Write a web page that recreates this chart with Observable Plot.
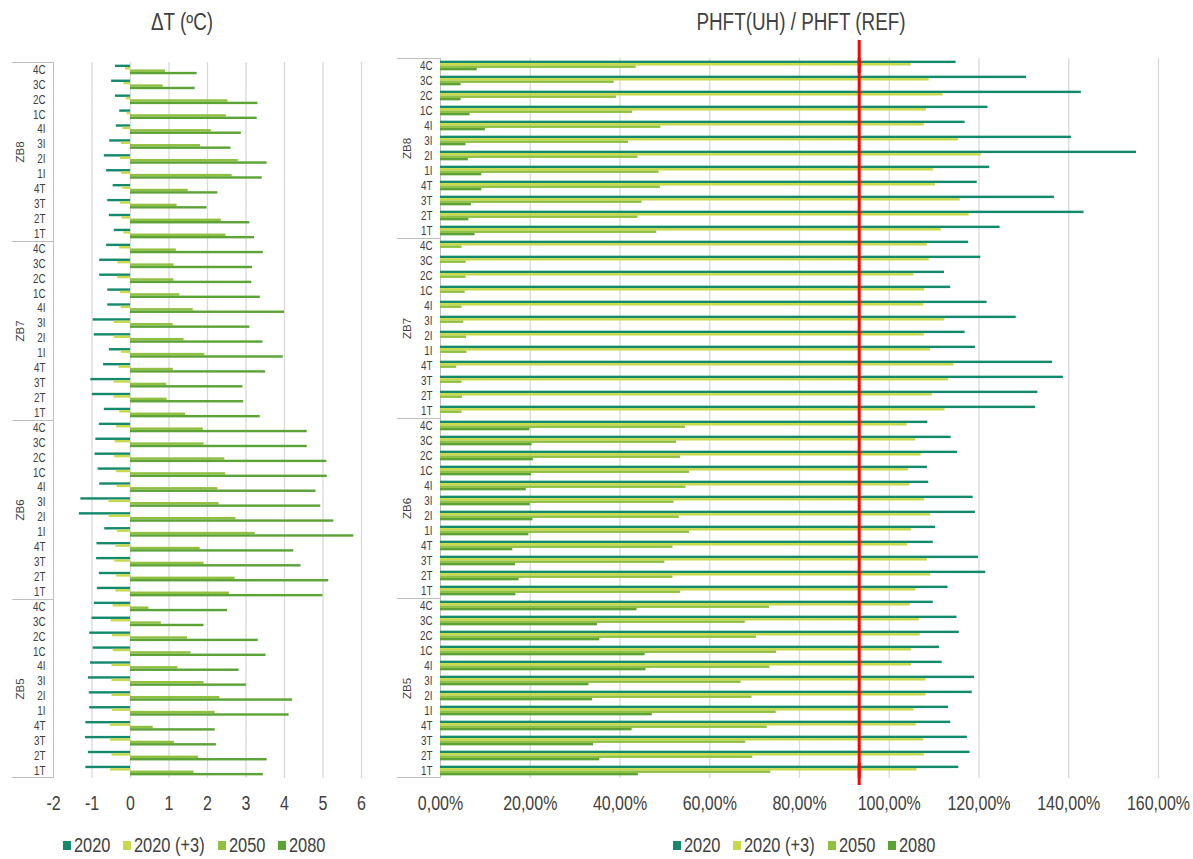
<!DOCTYPE html>
<html>
<head>
<meta charset="utf-8">
<script src="https://cdn.jsdelivr.net/npm/d3@7"></script>
<script src="https://cdn.jsdelivr.net/npm/@observablehq/plot@0.6"></script>
<style>
  html, body { margin: 0; padding: 0; background: #fff; }
  body { width: 1193px; height: 859px; position: relative; overflow: hidden;
         font-family: "Liberation Sans", Arial, sans-serif; color: #404040; }
  #left { position: absolute; left: 0; top: 40px; }
  #right { position: absolute; left: 385px; top: 40px; }
  .title { position: absolute; top: 8px; font-size: 23px; line-height: 28px; white-space: nowrap; transform: translateX(-50%) scaleX(0.82); }
  .legend { position: absolute; top: 833px; display: flex; align-items: center; font-size: 20px; line-height: 24px; }
  .legend .item { display: flex; align-items: center; }
  .legend .sw { width: 8px; height: 9px; margin-right: 3px; }
  .legend .lab { display: inline-block; transform-origin: 0 50%; transform: scaleX(0.82); white-space: nowrap; }
  svg [aria-label^="x-axis"] text { font-size: 19.5px; }
  svg [aria-label^="fy-axis"] text { font-size: 12px; }
</style>
</head>
<body>
<div class="title" style="left:182px">ΔT (ºC)</div>
<div class="title" style="left:801px">PHFT(UH) / PHFT (REF)</div>
<div id="left"></div>
<div id="right"></div>
<div class="legend" id="legL" style="left:63px"></div>
<div class="legend" id="legR" style="left:673px"></div>
<script>
// ---------- data ----------
const zones = ["ZB8", "ZB7", "ZB6", "ZB5"];
const cats = ["4C", "3C", "2C", "1C", "4I", "3I", "2I", "1I", "4T", "3T", "2T", "1T"];
const series = ["2020", "2020 (+3)", "2050", "2080"];
const colors = ["#138a6b", "#c8d94b", "#8fc03f", "#5ba237"];
const dtTicks = [-2, -1, 0, 1, 2, 3, 4, 5, 6];
const phTicks = [0, 0.2, 0.4, 0.6, 0.8, 1.0, 1.2, 1.4, 1.6];
const refLine = [0.933];

// ΔT (ºC), order: ZB8, ZB7, ZB6, ZB5 — each 4C..1T
const dT_2020 = [
  -0.39, -0.49, -0.39, -0.28, -0.37, -0.54, -0.68, -0.62, -0.45, -0.59, -0.55, -0.42,
  -0.62, -0.80, -0.80, -0.59, -0.59, -0.97, -0.94, -0.55, -0.70, -1.03, -0.99, -0.68,
  -0.81, -0.90, -0.92, -0.84, -0.80, -1.29, -1.33, -0.67, -0.87, -0.88, -0.81, -0.86,
  -0.94, -1.00, -1.06, -0.97, -1.04, -1.09, -1.07, -1.06, -1.16, -1.17, -1.09, -1.16];
const dT_2020p3 = [
  -0.13, -0.17, -0.11, -0.09, -0.20, -0.24, -0.26, -0.23, -0.20, -0.26, -0.22, -0.17,
  -0.28, -0.33, -0.33, -0.26, -0.24, -0.42, -0.42, -0.24, -0.30, -0.43, -0.43, -0.28,
  -0.36, -0.40, -0.41, -0.36, -0.35, -0.56, -0.56, -0.34, -0.38, -0.41, -0.36, -0.38,
  -0.45, -0.50, -0.47, -0.45, -0.48, -0.48, -0.48, -0.47, -0.52, -0.52, -0.48, -0.52];
const dT_2050 = [
  0.91, 0.85, 2.53, 2.49, 2.10, 1.82, 2.80, 2.64, 1.50, 1.21, 2.36, 2.48,
  1.19, 1.13, 1.13, 1.28, 1.63, 1.11, 1.39, 1.93, 1.11, 0.94, 0.95, 1.43,
  1.89, 1.91, 2.45, 2.47, 2.27, 2.30, 2.74, 3.24, 1.81, 1.91, 2.72, 2.57,
  0.48, 0.80, 1.48, 1.57, 1.23, 1.91, 2.32, 2.20, 0.59, 1.14, 1.77, 1.65];
const dT_2080 = [
  1.73, 1.68, 3.31, 3.29, 2.88, 2.61, 3.55, 3.42, 2.27, 1.99, 3.10, 3.22,
  3.45, 3.17, 3.15, 3.37, 4.00, 3.10, 3.44, 3.97, 3.51, 2.92, 2.94, 3.37,
  4.59, 4.59, 5.10, 5.11, 4.82, 4.94, 5.28, 5.80, 4.24, 4.43, 5.15, 5.00,
  2.52, 1.91, 3.32, 3.52, 2.82, 3.01, 4.21, 4.12, 2.20, 2.23, 3.55, 3.45];

// PHFT(UH) / PHFT(REF)
const ph_2020 = [
  1.149, 1.306, 1.428, 1.220, 1.169, 1.406, 1.551, 1.224, 1.196, 1.368, 1.434, 1.247,
  1.177, 1.204, 1.123, 1.137, 1.218, 1.283, 1.169, 1.192, 1.364, 1.388, 1.331, 1.326,
  1.086, 1.138, 1.152, 1.085, 1.088, 1.187, 1.192, 1.103, 1.098, 1.199, 1.215, 1.131,
  1.098, 1.151, 1.156, 1.112, 1.118, 1.190, 1.185, 1.132, 1.137, 1.174, 1.180, 1.155];
const ph_2020p3 = [
  1.049, 1.089, 1.120, 1.083, 1.078, 1.154, 1.205, 1.099, 1.103, 1.158, 1.178, 1.116,
  1.085, 1.089, 1.055, 1.079, 1.077, 1.124, 1.078, 1.092, 1.144, 1.132, 1.096, 1.124,
  1.040, 1.059, 1.071, 1.043, 1.046, 1.079, 1.092, 1.050, 1.041, 1.085, 1.092, 1.059,
  1.047, 1.067, 1.069, 1.050, 1.050, 1.082, 1.082, 1.055, 1.060, 1.077, 1.078, 1.062];
const ph_2050 = [
  0.436, 0.387, 0.392, 0.428, 0.491, 0.419, 0.440, 0.487, 0.490, 0.449, 0.440, 0.482,
  0.048, 0.057, 0.057, 0.055, 0.048, 0.052, 0.058, 0.059, 0.036, 0.048, 0.049, 0.048,
  0.546, 0.526, 0.535, 0.555, 0.547, 0.520, 0.532, 0.555, 0.518, 0.500, 0.518, 0.535,
  0.733, 0.679, 0.704, 0.749, 0.734, 0.670, 0.694, 0.748, 0.728, 0.680, 0.696, 0.736];
const ph_2080 = [
  0.082, 0.046, 0.046, 0.066, 0.100, 0.057, 0.062, 0.092, 0.092, 0.069, 0.063, 0.077,
  0, 0, 0, 0, 0, 0, 0, 0, 0, 0, 0, 0,
  0.199, 0.204, 0.207, 0.203, 0.191, 0.200, 0.206, 0.197, 0.161, 0.167, 0.175, 0.168,
  0.438, 0.350, 0.355, 0.456, 0.458, 0.331, 0.339, 0.472, 0.427, 0.341, 0.355, 0.441];

// ---------- derived tables ----------
const keys = zones.flatMap(z => cats.map(c => `${z}|${c}`));
const rows = cols => keys.flatMap((key, i) => series.map((s, j) => ({key, series: s, value: cols[j][i]})));
const dtRows = rows([dT_2020, dT_2020p3, dT_2050, dT_2080]);
const phRows = rows([ph_2020, ph_2020p3, ph_2050, ph_2080]);
const zoneFirst = zones.map(z => ({key: `${z}|${cats[0]}`}));
const zoneMid = zones.map(z => ({key: `${z}|${cats[5]}`, zone: z}));
const firstKey = [{key: keys[0]}];
const lastKey = [{key: keys[keys.length - 1]}];

const FONT = '"Liberation Sans", Arial, sans-serif';
const NARROW = 0.82;
const H = 778, MB = 40;

function panel(o) {
  const step = (H - o.marginTop - MB) / keys.length;
  const x0 = o.domain[0];
  return Plot.plot({
    width: o.width, height: H,
    marginLeft: o.marginLeft, marginRight: o.marginRight, marginTop: o.marginTop, marginBottom: MB,
    style: {fontFamily: FONT, fontSize: "12px", color: "#404040", background: "transparent", overflow: "visible"},
    x: {domain: o.domain, ticks: o.ticks, tickFormat: o.tickFormat, tickSize: 0, tickPadding: 18, label: null},
    y: {domain: series, paddingInner: 0, paddingOuter: 1.1, round: false, axis: null},
    fy: {domain: keys, padding: 0, round: false, axis: "left", tickSize: 0, tickPadding: o.labelPad,
         tickFormat: k => k.split("|")[1], label: null},
    color: {domain: series, range: colors},
    marks: [
      Plot.ruleX(o.ticks.filter(t => t !== x0), {stroke: "#d9d9d9", strokeWidth: 1.3}),
      Plot.ruleX([x0], {stroke: "#bfbfbf"}),
      Plot.barX(o.data, {x1: 0, x2: "value", y: "series", fy: "key", fill: "series"}),
      Plot.rect(zoneFirst, {fy: "key", x1: x0, x2: x0, insetLeft: -o.sep, insetBottom: step - 1, fill: "#bfbfbf"}),
      Plot.rect(lastKey, {fy: "key", x1: x0, x2: x0, insetLeft: -o.sep, insetTop: step - 1, fill: "#bfbfbf"}),
      Plot.text(zoneMid, {fy: "key", x: x0, text: "zone", frameAnchor: "bottom", rotate: -90, dx: o.zoneDx, fontSize: 11.5}),
      ...(o.extra || [])
    ]
  });
}

// emulate a narrow (Arial Narrow-like) face for the axis labels
function condense(svg) {
  svg.querySelectorAll("text").forEach(t => {
    if (!t.closest('[aria-label^="x-axis"], [aria-label^="fy-axis"]')) return;
    if (t.querySelector("tspan")) return;
    const L = t.getComputedTextLength();
    if (L > 0) {
      t.setAttribute("textLength", (L * NARROW).toFixed(2));
      t.setAttribute("lengthAdjust", "spacingAndGlyphs");
    }
  });
}

const left = panel({
  data: dtRows, width: 385, marginLeft: 53, marginRight: 24, marginTop: 22,
  domain: [-2, 6], ticks: dtTicks, tickFormat: d => String(d),
  labelPad: 8, zoneDx: -30, sep: 41
});
document.getElementById("left").appendChild(left);
condense(left);

const right = panel({
  data: phRows, width: 808, marginLeft: 55, marginRight: 35, marginTop: 18,
  domain: [0, 1.6], ticks: phTicks, tickFormat: d => (d * 100).toFixed(2).replace(".", ",") + "%",
  labelPad: 8, zoneDx: -30, sep: 43,
  extra: [
    Plot.ruleX(refLine, {stroke: "#ff0000", strokeWidth: 3}),
    Plot.ruleX(firstKey, {fy: "key", x: refLine[0], stroke: "#ff0000", strokeWidth: 3, insetTop: -18}),
    Plot.ruleX(lastKey, {fy: "key", x: refLine[0], stroke: "#ff0000", strokeWidth: 3, insetBottom: -7})
  ]
});
document.getElementById("right").appendChild(right);
condense(right);

for (const id of ["legL", "legR"]) {
  const leg = document.getElementById(id);
  series.forEach((s, i) => {
    const item = document.createElement("div");
    item.className = "item";
    const sw = document.createElement("div");
    sw.className = "sw";
    sw.style.background = colors[i];
    const t = document.createElement("span");
    t.className = "lab";
    t.textContent = s;
    item.appendChild(sw);
    item.appendChild(t);
    leg.appendChild(item);
    const w = t.offsetWidth;
    t.style.marginRight = (-(1 - NARROW) * w + 13).toFixed(1) + "px";
  });
}
</script>
</body>
</html>
